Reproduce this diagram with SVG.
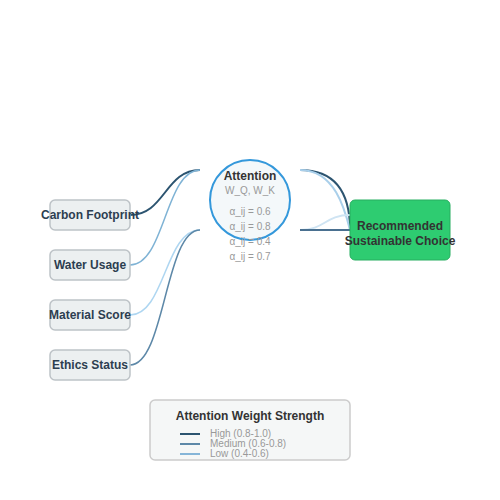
<svg xmlns="http://www.w3.org/2000/svg" width="500" height="500" viewBox="0 0 500 500">
<style>
.in rect{fill:#ecf0f1;stroke:#bdc3c7;stroke-width:1.5}
.lbl{font-family:"Liberation Sans",Arial,sans-serif;font-weight:bold;font-size:12px;fill:#2c3e50;text-anchor:middle}
.sm{font-family:"Liberation Sans",Arial,sans-serif;font-size:10px;fill:#999;text-anchor:middle}
.lg{font-family:"Liberation Sans",Arial,sans-serif;font-size:10px;fill:#999}
.c{fill:none}
</style>
<rect width="500" height="500" fill="#fff"/>
<g id="connectors">
<path class="c" d="M130,215 C165,215 165,170 200,170" stroke="#2c5470" stroke-width="2"/>
<path class="c" d="M130,265 C165,265 165,170 200,170" stroke="#7fb3d5" stroke-width="1.5"/>
<path class="c" d="M130,315 C165,315 165,230 200,230" stroke="#aed6f1" stroke-width="1.5"/>
<path class="c" d="M130,365 C165,365 165,230 200,230" stroke="#5d88a8" stroke-width="1.5"/>
<path class="c" d="M300,170 Q350,170 350,230" stroke="#2c5470" stroke-width="2"/>
<path class="c" d="M300,170 C335,170 345,210 350,230" stroke="#a9cfea" stroke-width="2"/>
<path class="c" d="M300,230 C325,230 325,215 350,215" stroke="#cfe4f3" stroke-width="2"/>
<path class="c" d="M300,230 L350,230" stroke="#4a7090" stroke-width="2"/>
</g>
<g id="carbon" class="in"><rect x="50" y="200" width="80" height="30" rx="5"/><text class="lbl" x="90" y="219">Carbon Footprint</text></g>
<g id="water" class="in"><rect x="50" y="250" width="80" height="30" rx="5"/><text class="lbl" x="90" y="269">Water Usage</text></g>
<g id="material" class="in"><rect x="50" y="300" width="80" height="30" rx="5"/><text class="lbl" x="90" y="319">Material Score</text></g>
<g id="ethics" class="in"><rect x="50" y="350" width="80" height="30" rx="5"/><text class="lbl" x="90" y="369">Ethics Status</text></g>
<g id="attention">
<circle cx="250" cy="200" r="40" fill="#f4f8fa" stroke="#3498db" stroke-width="2"/>
<text class="lbl" x="250" y="180" style="fill:#333">Attention</text>
<text class="sm" x="250" y="194">W_Q, W_K</text>
<text class="sm" x="250" y="215">α_ij = 0.6</text>
<text class="sm" x="250" y="230">α_ij = 0.8</text>
<text class="sm" x="250" y="245">α_ij = 0.4</text>
<text class="sm" x="250" y="260">α_ij = 0.7</text>
</g>
<g id="output">
<rect x="350" y="200" width="100" height="60" rx="5" fill="#2ecc71" stroke="#27ae60" stroke-width="1"/>
<text class="lbl" x="400" y="230" style="fill:#333">Recommended</text>
<text class="lbl" x="400" y="245" style="fill:#333">Sustainable Choice</text>
</g>
<g id="legend">
<rect x="150" y="400" width="200" height="60" rx="5" fill="#f5f7f7" stroke="#ccc" stroke-width="1.5"/>
<text class="lbl" x="250" y="420" style="fill:#333">Attention Weight Strength</text>
<line x1="180" y1="434" x2="200" y2="434" stroke="#2c5470" stroke-width="2"/>
<line x1="180" y1="444" x2="200" y2="444" stroke="#5d88a8" stroke-width="2"/>
<line x1="180" y1="454" x2="200" y2="454" stroke="#85b5d8" stroke-width="2"/>
<text class="lg" x="210" y="437">High (0.8-1.0)</text>
<text class="lg" x="210" y="447">Medium (0.6-0.8)</text>
<text class="lg" x="210" y="457">Low (0.4-0.6)</text>
</g>
</svg>
